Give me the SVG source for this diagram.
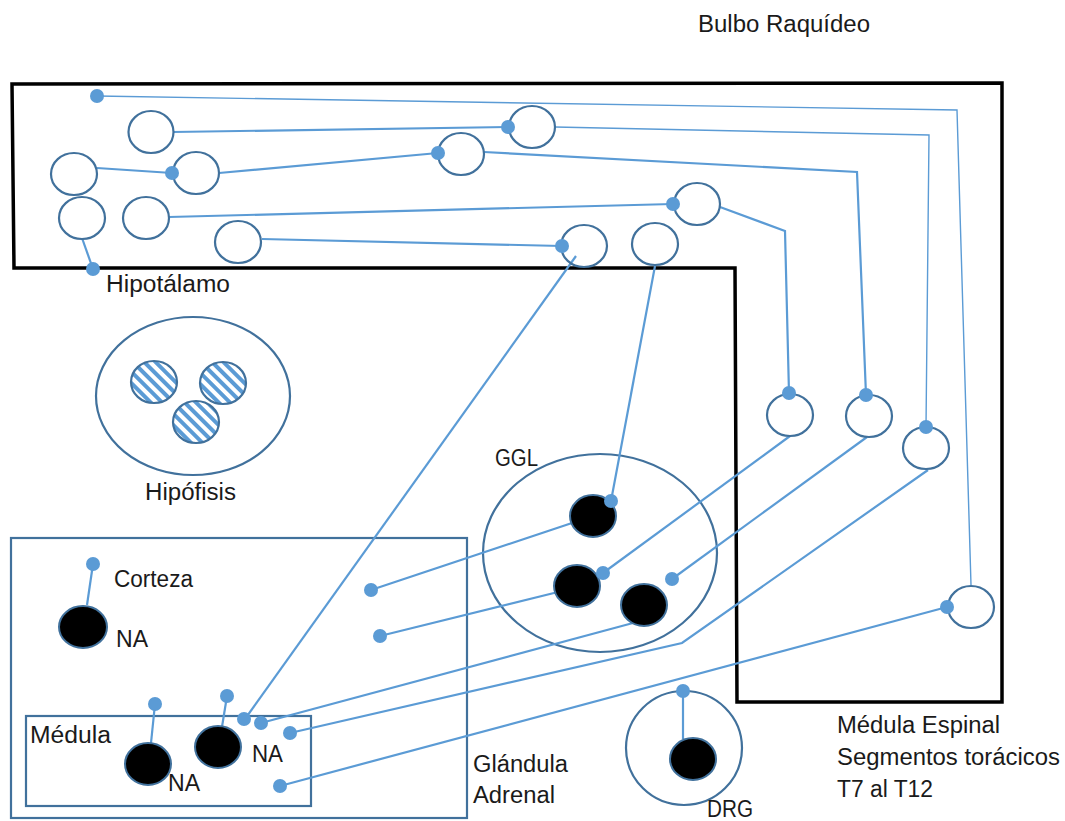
<svg xmlns="http://www.w3.org/2000/svg" width="1065" height="821" viewBox="0 0 1065 821">
<style>
.n{fill:#fff;stroke:#41719C;stroke-width:2.2}
.o{fill:none;stroke:#41719C;stroke-width:2.2}
.b{fill:#000;stroke:#41719C;stroke-width:2}
.c{fill:none;stroke:#5B9BD5;stroke-width:2.2}
.t{fill:none;stroke:#5B9BD5;stroke-width:1.4}
.d{fill:#5B9BD5}
.h{fill:url(#hatch);stroke:#41719C;stroke-width:2.2}
text{font-family:"Liberation Sans",Arial,sans-serif;font-size:23px;fill:#1a1a1a}
</style>
<defs>
<pattern id="hatch" width="8" height="8" patternUnits="userSpaceOnUse" patternTransform="rotate(45)">
<rect width="8" height="8" fill="#fff"/>
<rect width="8" height="4" fill="#5B9BD5"/>
</pattern>
</defs>
<rect width="1065" height="821" fill="#fff"/>

<g id="snc">
<path d="M12,84 L1002,83 L1002,702 L737,702 L735,268 L14,268 Z" fill="none" stroke="#000" stroke-width="3.5" stroke-linejoin="miter"/>
</g>

<g id="hipofisis">
<ellipse class="o" cx="193" cy="396" rx="97" ry="79"/>
<ellipse class="h" cx="154" cy="382" rx="23" ry="21"/>
<ellipse class="h" cx="223" cy="383" rx="23" ry="21"/>
<ellipse class="h" cx="196" cy="422" rx="23" ry="21"/>
<text x="145" y="500" textLength="91" lengthAdjust="spacingAndGlyphs">Hipófisis</text>
</g>

<g id="ggl">
<ellipse class="o" cx="600" cy="553" rx="117" ry="99"/>
<text x="495" y="466" textLength="43" lengthAdjust="spacingAndGlyphs">GGL</text>
</g>

<g id="drg">
<ellipse class="o" cx="684" cy="748" rx="58" ry="57"/>
<text x="707" y="817" textLength="46" lengthAdjust="spacingAndGlyphs">DRG</text>
</g>

<g id="glandula-adrenal">
<rect x="11" y="538" width="456" height="280" fill="none" stroke="#41719C" stroke-width="2.2"/>
<text x="114" y="587" textLength="79" lengthAdjust="spacingAndGlyphs">Corteza</text>
<text x="116" y="647" textLength="32" lengthAdjust="spacingAndGlyphs">NA</text>
<text x="473" y="772" textLength="95" lengthAdjust="spacingAndGlyphs">Glándula</text>
<text x="473" y="803" textLength="82" lengthAdjust="spacingAndGlyphs">Adrenal</text>
</g>

<g id="medula-adrenal">
<rect x="26" y="716" width="285" height="90" fill="none" stroke="#41719C" stroke-width="2.2"/>
<text x="30" y="743" textLength="81" lengthAdjust="spacingAndGlyphs">Médula</text>
<text x="168" y="791" textLength="32" lengthAdjust="spacingAndGlyphs">NA</text>
<text x="252" y="762" textLength="31" lengthAdjust="spacingAndGlyphs">NA</text>
</g>

<g id="connectors">
<polyline class="t" points="97,96 957,110 971,585"/>
<line class="c" x1="173" y1="132" x2="508" y2="127"/>
<polyline class="t" points="555,127 929,135 926,427"/>
<line class="c" x1="97" y1="168" x2="172" y2="173"/>
<line class="c" x1="219" y1="173" x2="438" y2="153"/>
<polyline class="c" points="484,152 857,172 866,395"/>
<line class="c" x1="169" y1="217" x2="673" y2="204"/>
<polyline class="c" points="720,207 785,231 789,393"/>
<line class="c" x1="262" y1="239" x2="562" y2="246"/>
<line class="c" x1="82" y1="238" x2="93" y2="269"/>
<line class="c" x1="576" y1="256" x2="245" y2="719"/>
<line class="c" x1="655" y1="266" x2="611" y2="501"/>
<line class="c" x1="790" y1="436" x2="603" y2="573"/>
<line class="c" x1="867" y1="437" x2="672" y2="579"/>
<polyline class="c" points="928,470 682,643 290,733"/>
<line class="c" x1="947" y1="607" x2="280" y2="786"/>
<line class="c" x1="572" y1="523" x2="371" y2="590"/>
<line class="c" x1="558" y1="592" x2="380" y2="636"/>
<line class="c" x1="633" y1="623" x2="261" y2="723"/>
<line class="c" x1="93" y1="564" x2="87" y2="605"/>
<line class="c" x1="155" y1="704" x2="151" y2="743"/>
<line class="c" x1="227" y1="696" x2="221" y2="733"/>
<line class="c" x1="683" y1="691" x2="683" y2="739"/>
</g>

<g id="hipotalamo-neuronas">
<ellipse class="n" cx="151" cy="132" rx="22.5" ry="21"/>
<ellipse class="n" cx="74" cy="174" rx="23" ry="21"/>
<ellipse class="n" cx="196" cy="173" rx="23" ry="21"/>
<ellipse class="n" cx="82" cy="218" rx="23" ry="21"/>
<ellipse class="n" cx="146" cy="218" rx="23" ry="21"/>
<ellipse class="n" cx="238" cy="242" rx="23" ry="21"/>
<ellipse class="n" cx="532" cy="127" rx="23" ry="21"/>
<ellipse class="n" cx="461" cy="154" rx="23" ry="21"/>
<ellipse class="n" cx="697" cy="204" rx="23" ry="21"/>
<ellipse class="o" cx="584" cy="246" rx="23" ry="21"/>
<ellipse class="n" cx="655" cy="244" rx="23" ry="21"/>
<circle class="d" cx="97" cy="96" r="7"/>
<circle class="d" cx="93" cy="269" r="7"/>
<circle class="d" cx="172" cy="173" r="7"/>
<circle class="d" cx="508" cy="127" r="7"/>
<circle class="d" cx="438" cy="153" r="7"/>
<circle class="d" cx="673" cy="204" r="7"/>
<circle class="d" cx="562" cy="246" r="7"/>
<text x="106" y="292" textLength="124" lengthAdjust="spacingAndGlyphs">Hipotálamo</text>
</g>

<g id="medula-espinal-neuronas">
<ellipse class="n" cx="790" cy="415" rx="23" ry="21"/>
<ellipse class="n" cx="869" cy="416" rx="23" ry="21"/>
<ellipse class="n" cx="926" cy="448" rx="23" ry="21"/>
<ellipse class="n" cx="971" cy="607" rx="23" ry="21"/>
<circle class="d" cx="789" cy="393" r="7"/>
<circle class="d" cx="866" cy="395" r="7"/>
<circle class="d" cx="926" cy="427" r="7"/>
<circle class="d" cx="947" cy="607" r="7"/>
</g>

<g id="ggl-neuronas">
<ellipse class="b" cx="593" cy="516" rx="23" ry="21"/>
<ellipse class="b" cx="577" cy="586" rx="23" ry="21"/>
<ellipse class="b" cx="644" cy="605" rx="23" ry="21"/>
<circle class="d" cx="611" cy="501" r="7"/>
<circle class="d" cx="603" cy="573" r="7"/>
<circle class="d" cx="672" cy="579" r="7"/>
</g>

<g id="adrenal-neuronas">
<ellipse class="b" cx="83" cy="627" rx="24" ry="21"/>
<ellipse class="b" cx="148" cy="764" rx="23" ry="21"/>
<ellipse class="b" cx="218" cy="747" rx="23" ry="21"/>
<circle class="d" cx="93" cy="564" r="7"/>
<circle class="d" cx="371" cy="590" r="7"/>
<circle class="d" cx="380" cy="636" r="7"/>
<circle class="d" cx="155" cy="704" r="7"/>
<circle class="d" cx="227" cy="696" r="7"/>
<circle class="d" cx="244" cy="719" r="7"/>
<circle class="d" cx="261" cy="723" r="7"/>
<circle class="d" cx="290" cy="733" r="7"/>
<circle class="d" cx="280" cy="786" r="7"/>
</g>

<g id="drg-neurona">
<ellipse class="b" cx="693" cy="759" rx="23" ry="21"/>
<circle class="d" cx="683" cy="691" r="7"/>
</g>

<g id="labels">
<text x="698" y="32" textLength="172" lengthAdjust="spacingAndGlyphs">Bulbo Raquídeo</text>
<text x="837" y="733" textLength="163" lengthAdjust="spacingAndGlyphs">Médula Espinal</text>
<text x="837" y="765" textLength="223" lengthAdjust="spacingAndGlyphs">Segmentos torácicos</text>
<text x="837" y="797" textLength="96" lengthAdjust="spacingAndGlyphs">T7 al T12</text>
</g>
</svg>
